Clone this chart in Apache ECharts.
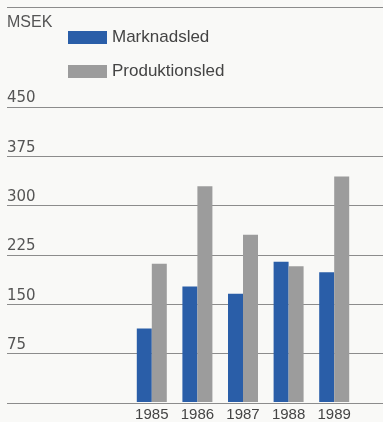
<!DOCTYPE html>
<html>
<head>
<meta charset="utf-8">
<script src="https://cdn.jsdelivr.net/npm/echarts@6/dist/echarts.min.js"></script>
<style>
  html, body { margin: 0; padding: 0; background: #f9f9f7; }
  #chart { width: 383px; height: 422px; }
</style>
</head>
<body>
<div id="chart"></div>
<script>
// Years on the category axis
const years = ['1985', '1986', '1987', '1988', '1989'];
// Values in MSEK
const marknadsled = [112, 176, 165, 214, 198];
const produktionsled = [211, 329, 255, 207, 344];
// Value axis ticks
const yMin = 0;
const yMax = 450;
const yStep = 75;

const chart = echarts.init(document.getElementById('chart'), null, { renderer: 'canvas' });

const textColor = '#555555';
const gridColor = '#8c8c8c';

chart.setOption({
  backgroundColor: '#f9f9f7',
  animation: false,
  title: {
    text: 'MSEK',
    left: 7,
    top: 15,
    padding: 0,
    textStyle: { fontFamily: 'Liberation Sans', fontSize: 16, fontWeight: 'normal', color: textColor }
  },
  legend: {
    orient: 'vertical',
    left: 68,
    top: 29,
    padding: 0,
    itemWidth: 39,
    itemHeight: 13,
    itemGap: 17,
    icon: 'rect',
    textStyle: { fontFamily: 'Liberation Sans', fontSize: 17, color: '#444444' },
    data: ['Marknadsled', 'Produktionsled']
  },
  graphic: [{
    type: 'line',
    shape: { x1: 7, y1: 7.5, x2: 383, y2: 7.5 },
    style: { stroke: gridColor, lineWidth: 1 }
  }],
  grid: [
    // full-width grid carrying the horizontal rules and their labels
    { left: 7, right: 0, top: 107, bottom: 19 },
    // grid holding the bars
    { left: 129, right: 26, top: 107, bottom: 19 }
  ],
  xAxis: [
    { gridIndex: 0, type: 'category', data: years, show: false },
    {
      gridIndex: 1, type: 'category', data: years,
      axisLine: { show: false }, axisTick: { show: false },
      axisLabel: { fontFamily: 'Liberation Sans', fontSize: 15, color: '#444444', margin: 5 }
    }
  ],
  yAxis: [
    {
      gridIndex: 0, type: 'value', min: yMin, max: yMax, interval: yStep,
      axisLine: { show: false }, axisTick: { show: false },
      splitLine: { show: true, lineStyle: { color: gridColor, width: 1 } },
      axisLabel: {
        inside: true, margin: 0, align: 'left', verticalAlign: 'bottom',
        padding: [0, 0, 1, 0],
        fontFamily: 'DejaVu Sans', fontSize: 15, color: textColor,
        formatter: v => (v === 0 ? '' : String(v))
      }
    },
    {
      gridIndex: 1, type: 'value', min: yMin, max: yMax, interval: yStep,
      show: false
    }
  ],
  series: [
    {
      name: 'Marknadsled', type: 'bar', xAxisIndex: 1, yAxisIndex: 1,
      data: marknadsled, barWidth: 15, barGap: '0%',
      itemStyle: { color: '#2a5ea8' }
    },
    {
      name: 'Produktionsled', type: 'bar', xAxisIndex: 1, yAxisIndex: 1,
      data: produktionsled, barWidth: 15, barGap: '0%',
      itemStyle: { color: '#9c9c9c' }
    }
  ]
});
</script>
</body>
</html>
